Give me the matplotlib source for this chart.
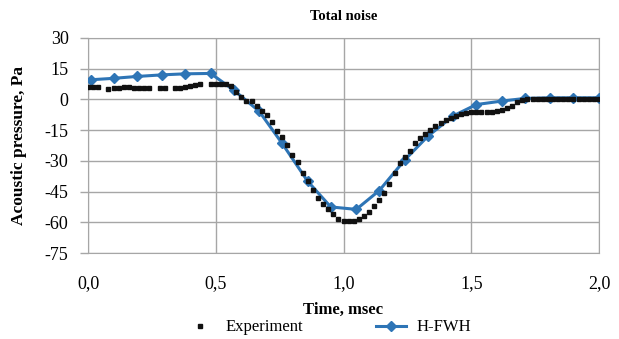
import matplotlib
matplotlib.use("Agg")
import matplotlib.pyplot as plt
from matplotlib.ticker import FuncFormatter

plt.rcParams['font.family'] = ['Liberation Serif', 'DejaVu Serif']
plt.rcParams['axes.unicode_minus'] = False

# vrijednosti ocitane sa slike
exp_t = [0.00, 0.02, 0.04, 0.08, 0.10, 0.12, 0.14, 0.16, 0.18, 0.20,
         0.22, 0.24, 0.28, 0.30, 0.34, 0.36, 0.38, 0.40, 0.42, 0.44,
         0.48, 0.50, 0.52, 0.54, 0.56, 0.58, 0.60, 0.62, 0.64, 0.66,
         0.68, 0.70, 0.72, 0.74, 0.76, 0.78, 0.80, 0.82, 0.84, 0.86,
         0.88, 0.90, 0.92, 0.94, 0.96, 0.98, 1.00, 1.02, 1.04, 1.06,
         1.08, 1.10, 1.12, 1.14, 1.16, 1.18, 1.20, 1.22, 1.24, 1.26,
         1.28, 1.30, 1.32, 1.34, 1.36, 1.38, 1.40, 1.42, 1.44, 1.46,
         1.48, 1.50, 1.52, 1.54, 1.56, 1.58, 1.60, 1.62, 1.64, 1.66,
         1.68, 1.70, 1.72, 1.74, 1.76, 1.78, 1.80, 1.82, 1.84, 1.86,
         1.88, 1.90, 1.92, 1.94, 1.96, 1.98, 2.00]
exp_p = [6.0, 6.1, 6.0, 5.2, 5.5, 5.8, 6.3, 6.0, 5.8, 5.8,
         5.6, 5.6, 5.5, 5.5, 5.7, 5.8, 6.2, 6.8, 7.1, 7.3,
         7.6, 7.7, 7.6, 7.5, 6.4, 3.5, 1.2, -1.0, -1.0, -3.2,
         -5.6, -7.8, -10.8, -15.5, -18.5, -22.5, -27.0, -30.8, -36.0, -40.0,
         -44.0, -48.0, -51.0, -53.5, -56.0, -58.5, -59.5, -59.5, -59.5, -58.5,
         -57.0, -55.0, -52.0, -49.0, -45.5, -41.5, -36.0, -31.0, -28.0, -25.0,
         -21.5, -19.0, -17.0, -15.0, -13.0, -11.5, -10.0, -9.0, -8.2, -7.3,
         -6.6, -6.2, -6.0, -6.0, -6.0, -6.0, -5.8, -5.0, -4.0, -3.0,
         -1.5, -0.3, 0.0, 0.2, 0.2, 0.3, 0.2, 0.2, 0.3, 0.3,
         0.2, 0.3, 0.3, 0.3, 0.3, 0.3, 0.4]

fwh_t = [0.01, 0.10, 0.19, 0.29, 0.38, 0.48, 0.57, 0.67, 0.76, 0.86, 0.95,
         1.05, 1.14, 1.24, 1.33, 1.43, 1.52, 1.62, 1.71, 1.81, 1.90, 2.00]
fwh_p = [9.6, 10.3, 11.2, 12.0, 12.5, 12.7, 4.6, -5.8, -21.5, -40.0, -52.5,
         -53.7, -44.5, -29.5, -18.0, -8.0, -2.5, -0.8, 0.5, 0.8, 0.8, 0.8]

y_ticks = [-75, -60, -45, -30, -15, 0, 15, 30]
x_ticks = [0.0, 0.5, 1.0, 1.5, 2.0]

plava = "#2e75b6"
siva = "#a6a6a6"

fig = plt.figure(figsize=(6.19, 3.39), dpi=100)
ax = fig.add_axes([88/619, 1-253/339, (599-88)/619, (253-38)/339])

ax.plot(fwh_t, fwh_p, color=plava, lw=2.2, marker="D", markersize=5.5,
        label="H-FWH", zorder=3)
ax.plot(exp_t, exp_p, ls="none", marker="s", markersize=2.4, color="#111111",
        label="Experiment", zorder=4)

ax.set_xlim(0, 2.0)
ax.set_ylim(-75, 30)
ax.set_xticks(x_ticks)
ax.set_yticks(y_ticks)
ax.xaxis.set_major_formatter(FuncFormatter(lambda v, p: f"{v:.1f}".replace(".", ",")))
ax.grid(True, color=siva, lw=1)
ax.set_axisbelow(True)
for s in ax.spines.values():
    s.set_color(siva)
ax.tick_params(axis="y", length=6, width=1, color=siva, pad=8, labelsize=13)
ax.tick_params(axis="x", length=0, pad=16, labelsize=13)

ax.set_title("Total noise", fontsize=10.5, fontweight="bold", pad=13)
ax.set_xlabel("Time, msec", fontsize=12, fontweight="bold")
ax.xaxis.set_label_coords(0.5, -0.225)
ax.xaxis.label.set_va("top")
ax.set_ylabel("Acoustic pressure, Pa", fontsize=12.5, fontweight="bold")
ax.yaxis.set_label_coords(-0.12, 0.5)

h, l = ax.get_legend_handles_labels()
fig.legend(h[::-1], l[::-1], loc="center", bbox_to_anchor=(0.53, 0.034), ncol=2,
           frameon=False, fontsize=12, handlelength=1.8, handletextpad=0.6,
           columnspacing=4.4, borderpad=0)

fig.savefig("out.png", dpi=100)
